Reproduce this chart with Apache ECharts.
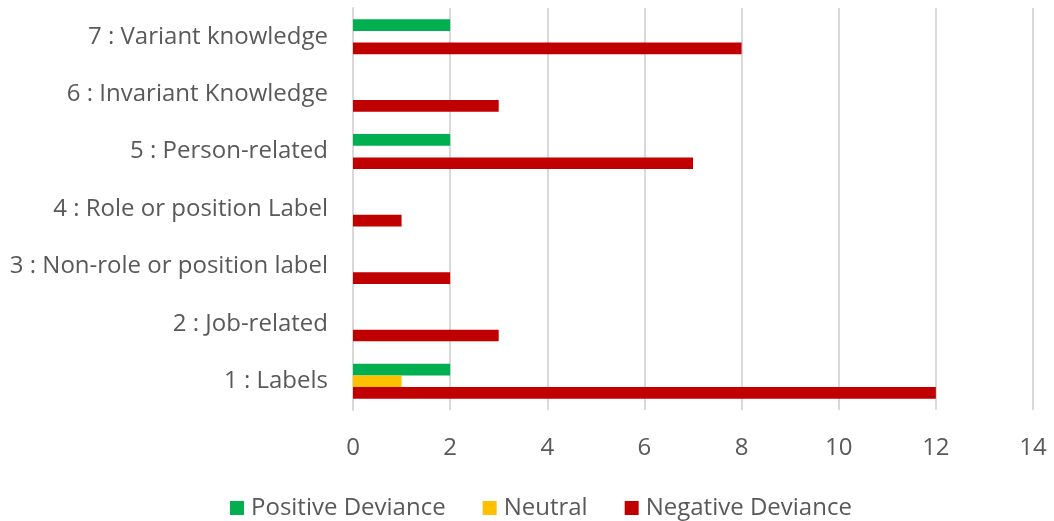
<!DOCTYPE html>
<html>
<head>
<meta charset="utf-8">
<script src="https://cdn.jsdelivr.net/npm/echarts@6/dist/echarts.min.js"></script>
<style>
  html, body { margin: 0; padding: 0; background: #ffffff; }
  #chart { width: 1054px; height: 521px; }
</style>
</head>
<body>
<div id="chart"></div>
<script>
// Categories, listed bottom to top on the vertical axis
const categories = [
  '1 : Labels',
  '2 : Job-related',
  '3 : Non-role or position label',
  '4 : Role or position Label',
  '5 : Person-related',
  '6 : Invariant Knowledge',
  '7 : Variant knowledge'
];
const positiveDeviance = [2, 0, 0, 0, 2, 0, 2];
const neutral = [1, 0, 0, 0, 0, 0, 0];
const negativeDeviance = [12, 3, 2, 1, 7, 3, 8];

const textColor = '#595959';
const fontFamily = '"Open Sans", "Noto Sans", sans-serif';
const fontSize = 24;

const chart = echarts.init(document.getElementById('chart'), null, { renderer: 'canvas' });

chart.setOption({
  animation: false,
  backgroundColor: '#ffffff',
  textStyle: { fontFamily: fontFamily },
  grid: { left: 353, right: 21, top: 8, bottom: 111, containLabel: false },
  legend: {
    left: 230,
    top: 496,
    padding: 0,
    itemWidth: 14,
    itemHeight: 14,
    itemGap: 37,
    icon: 'rect',
    textStyle: { color: textColor, fontSize: fontSize, fontFamily: fontFamily, padding: [0, 0, 0, 2] }
  },
  xAxis: {
    type: 'value',
    min: 0,
    max: 14,
    interval: 2,
    axisLine: { show: false },
    axisTick: { show: false },
    axisLabel: { color: textColor, fontSize: fontSize, margin: 26, fontFamily: fontFamily },
    splitLine: { show: true, lineStyle: { color: '#d9d9d9', width: 2 } }
  },
  yAxis: {
    type: 'category',
    data: categories,
    axisLine: { show: true, lineStyle: { color: '#d9d9d9', width: 2 } },
    axisTick: { show: false },
    axisLabel: { color: textColor, fontSize: fontSize, margin: 25, fontFamily: fontFamily },
    splitLine: { show: false }
  },
  // Within each category band the first series sits on top
  series: [
    {
      name: 'Positive Deviance',
      type: 'bar',
      data: positiveDeviance,
      itemStyle: { color: '#00B050' },
      barGap: '0%',
      barCategoryGap: '39%'
    },
    {
      name: 'Neutral',
      type: 'bar',
      data: neutral,
      itemStyle: { color: '#FFC000' },
      barGap: '0%',
      barCategoryGap: '39%'
    },
    {
      name: 'Negative Deviance',
      type: 'bar',
      data: negativeDeviance,
      itemStyle: { color: '#C00000' },
      barGap: '0%',
      barCategoryGap: '39%'
    }
  ]
});
</script>
</body>
</html>
